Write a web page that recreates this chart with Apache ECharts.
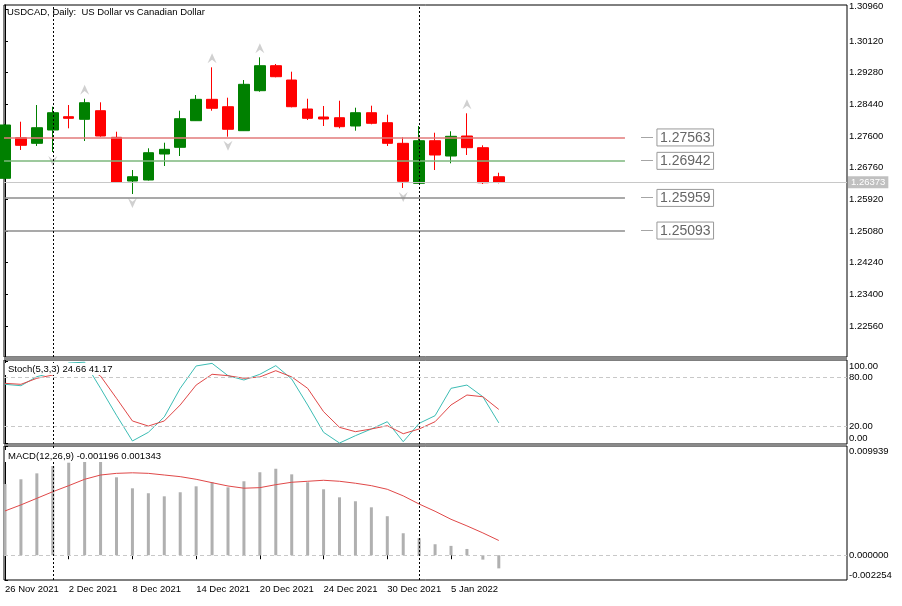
<!DOCTYPE html>
<html>
<head>
<meta charset="utf-8">
<script src="https://cdn.jsdelivr.net/npm/echarts@6/dist/echarts.min.js"></script>
<style>
  html, body { margin: 0; padding: 0; background: #fff; }
  #chart { width: 902px; height: 606px; }
</style>
</head>
<body>
<div id="chart"></div>
<script>
/**日期 */
let dates = ['26 Nov 2021', '29 Nov 2021', '30 Nov 2021', '1 Dec 2021', '2 Dec 2021', '3 Dec 2021', '6 Dec 2021', '7 Dec 2021',
  '8 Dec 2021', '9 Dec 2021', '10 Dec 2021', '13 Dec 2021', '14 Dec 2021', '15 Dec 2021', '16 Dec 2021', '17 Dec 2021',
  '20 Dec 2021', '21 Dec 2021', '22 Dec 2021', '23 Dec 2021', '24 Dec 2021', '27 Dec 2021', '28 Dec 2021', '29 Dec 2021',
  '30 Dec 2021', '31 Dec 2021', '3 Jan 2022', '4 Jan 2022', '5 Jan 2022', '6 Jan 2022', '7 Jan 2022', '10 Jan 2022'];
/**K线 [开, 收, 低, 高] */
let ohlc = [
  [1.26479, 1.27893, 1.26450, 1.27920], [1.27556, 1.27354, 1.27230, 1.27980], [1.27407, 1.27821, 1.27336, 1.28423],
  [1.27760, 1.28219, 1.27177, 1.28378], [1.28113, 1.28070, 1.27805, 1.28423], [1.28044, 1.28484, 1.27468, 1.28590],
  [1.28272, 1.27601, 1.27583, 1.28495], [1.27566, 1.26373, 1.26362, 1.27715], [1.26407, 1.26521, 1.26062, 1.26699],
  [1.26434, 1.27158, 1.26420, 1.27275], [1.27123, 1.27248, 1.26805, 1.27423], [1.27301, 1.28060, 1.27070, 1.28272],
  [1.28007, 1.28574, 1.28000, 1.28688], [1.28574, 1.28336, 1.28272, 1.29423], [1.28378, 1.27779, 1.27582, 1.28617],
  [1.27742, 1.28972, 1.27734, 1.29086], [1.28803, 1.29466, 1.28776, 1.29688], [1.29466, 1.29174, 1.29158, 1.29511],
  [1.29086, 1.28378, 1.28362, 1.29307], [1.28317, 1.28070, 1.28025, 1.28590], [1.28105, 1.28052, 1.27866, 1.28397],
  [1.28086, 1.27848, 1.27805, 1.28537], [1.27866, 1.28219, 1.27742, 1.28352], [1.28219, 1.27938, 1.27911, 1.28405],
  [1.27954, 1.27407, 1.27336, 1.28166], [1.27407, 1.26399, 1.26222, 1.27566], [1.26346, 1.27476, 1.26340, 1.27866],
  [1.27476, 1.27097, 1.26699, 1.27688], [1.27070, 1.27593, 1.26877, 1.27726], [1.27601, 1.27291, 1.27097, 1.28203],
  [1.27291, 1.26362, 1.26328, 1.27354], [1.26521, 1.26373, 1.26346, 1.26627]
];
let lastPrice = 1.26373;
/**分形 */
let fractalUp = [5, 13, 16, 29];
let fractalDown = [3, 8, 14, 25];
/**水平线 */
let levels = [1.27563, 1.26942, 1.25959, 1.25093];
let levelColors = ['#e27a7a', '#7db77d', '#8c8c8c', '#8c8c8c'];
/**月分隔 */
let separators = [3, 26];
/**随机指标 */
let stochMain = [71.9, 70.2, 81.3, 86, 98, 99, 67, 34, 2.5, 13.1, 32, 67, 94.4, 97.6, 82.5, 77.2,
  84.2, 94.8, 78.4, 46.6, 13.1, 0, 9, 17.2, 26.1, 1.6, 24.1, 33.5, 67, 71, 56.7, 24.66];
let stochSignal = [73.1, 71.9, 79.3, 83.3, 89, 94, 82, 54.8, 27, 20.8, 27, 46.6, 71, 84.2, 82.5, 79.3,
  80.9, 88.6, 81, 67, 38.4, 19.2, 13.9, 17.2, 21.2, 11.4, 17.2, 26.1, 46.6, 58.8, 56.7, 41.17];
/**MACD */
let macdHist = [0.00648, 0.00691, 0.00745, 0.00812, 0.00842, 0.00860, 0.00851, 0.00709, 0.00609, 0.00564, 0.00536,
  0.00573, 0.00627, 0.00664, 0.00618, 0.00673, 0.00755, 0.00787, 0.00736, 0.00664, 0.00600, 0.00527, 0.00491,
  0.00436, 0.00355, 0.00200, 0.00155, 0.00100, 0.00085, 0.00057, -0.00040, -0.001196];
let macdSignal = [0.00403, 0.00458, 0.00518, 0.00578, 0.00633, 0.00691, 0.00730, 0.00745, 0.00750, 0.00745, 0.00730,
  0.00715, 0.00691, 0.00660, 0.00630, 0.00610, 0.00615, 0.00642, 0.00664, 0.00673, 0.00682, 0.00673, 0.00655,
  0.00633, 0.00600, 0.00540, 0.00466, 0.00400, 0.00327, 0.00267, 0.00203, 0.001343];
/**刻度 */
let priceTicks = [1.22560, 1.23400, 1.24240, 1.25080, 1.25920, 1.26760, 1.27600, 1.28440, 1.29280, 1.30120, 1.30960];
let stochTicks = [0, 20, 80, 100];
let macdTicks = [-0.002254, 0, 0.009939];
let dateTicks = [0, 4, 8, 12, 16, 20, 24, 28];

let font = 'Liberation Sans';
let fs = 9.5;
let xMin = -0.0625, xMax = 52.86, levelEnd = 38.92;

let chartDom = document.getElementById('chart');
let chart = echarts.init(chartDom);

var makeX = function (grid, showLabel) {/**横轴 */
  return {
    type: 'value', gridIndex: grid, min: xMin, max: xMax,
    axisLine: { show: false },
    splitLine: { show: false },
    axisTick: showLabel ? { show: true, customValues: dateTicks, length: 4, lineStyle: { color: '#000' } } : { show: false },
    axisLabel: showLabel ? {
      show: true, customValues: dateTicks, align: 'left', margin: 4,
      fontFamily: font, fontSize: fs, color: '#000',
      formatter: v => dates[v] || ''
    } : { show: false }
  };
};
/**边缘标签上下挪一点, 跟MT4一样 */
var edgeRich = {
  dn: { padding: [9, 0, 0, 0] },
  dn2: { padding: [11, 0, 0, 0] },
  up: { padding: [0, 0, 5, 0] },
  up2: { padding: [0, 0, 10, 0] }
};
var makeY = function (grid, min, max, ticks, digits, top, bottom) {/**右侧纵轴 */
  return {
    type: 'value', gridIndex: grid, position: 'right', min: min, max: max,
    axisLine: { show: true, lineStyle: { color: '#000' } },
    splitLine: { show: false },
    axisTick: { show: true, customValues: ticks, length: 3, lineStyle: { color: '#000' } },
    axisLabel: {
      show: true, customValues: ticks, margin: 2,
      fontFamily: font, fontSize: fs, color: '#000', rich: edgeRich,
      formatter: function (v) {
        let s = v.toFixed(digits);
        if (top && v === ticks[ticks.length - 1]) return '{' + top + '|' + s + '}';
        if (bottom && v === ticks[0]) return '{' + bottom + '|' + s + '}';
        return s;
      }
    }
  };
};

let levelLines = levels.map((v, i) => [
  {
    coord: [xMin, v], lineStyle: { color: levelColors[i], width: 1.5, type: 'solid' },
    label: {
      show: true, position: 'end', distance: 16, formatter: '{d|—}{s|}{b|' + v.toFixed(5) + '}',
      rich: {
        d: { color: '#9a9a9a', fontSize: 12, fontFamily: font },
        s: { width: 4 },
        b: { color: '#666', fontSize: 14, fontFamily: font, borderColor: '#999', borderWidth: 1, padding: [2, 3, 1, 3] }
      }
    }
  },
  { coord: [levelEnd, v] }
]);

let option = {
  animation: false,
  backgroundColor: '#fff',
  title: [
    { text: 'USDCAD, Daily:  US Dollar vs Canadian Dollar', left: 7, top: 7, padding: 0,
      textStyle: { fontFamily: font, fontSize: fs, fontWeight: 'normal', color: '#000' } },
    { text: 'Stoch(5,3,3) 24.66 41.17', left: 5, top: 363, padding: [1, 3], backgroundColor: '#fff',
      textStyle: { fontFamily: font, fontSize: fs, fontWeight: 'normal', color: '#000' } },
    { text: 'MACD(12,26,9) -0.001196 0.001343', left: 5, top: 450, padding: [1, 3], backgroundColor: '#fff',
      textStyle: { fontFamily: font, fontSize: fs, fontWeight: 'normal', color: '#000' } }
  ],
  grid: [
    { left: 4, top: 5, width: 843, height: 352, show: true, borderColor: '#000', borderWidth: 1, outerBoundsMode: 'none' },
    { left: 4, top: 360, width: 843, height: 84, show: true, borderColor: '#000', borderWidth: 1, outerBoundsMode: 'none' },
    { left: 4, top: 446, width: 843, height: 134, show: true, borderColor: '#000', borderWidth: 1, outerBoundsMode: 'none' }
  ],
  xAxis: [makeX(0, false), makeX(1, false), makeX(2, true)],
  yAxis: [
    makeY(0, 1.21739, 1.31076, priceTicks, 5, 'up', null),
    makeY(1, -1.2, 101.7, stochTicks, 2, 'dn', 'up2'),
    makeY(2, -0.002254, 0.009939, macdTicks, 6, 'dn2', 'up2')
  ],
  graphic: [
    { type: 'rect', shape: { x: 4, y: 357, width: 843, height: 3 }, style: { fill: '#8a8a8a' }, z: 100 },
    { type: 'rect', shape: { x: 4, y: 444, width: 843, height: 2 }, style: { fill: '#8a8a8a' }, z: 100 }
  ],
  series: [
    {
      name: 'USDCAD', type: 'candlestick', xAxisIndex: 0, yAxisIndex: 0,
      data: ohlc.map((d, i) => [i, d[0], d[1], d[2], d[3]]),
      encode: { x: 0, y: [1, 2, 3, 4] },
      barWidth: 11,
      itemStyle: { color: '#008000', color0: '#ff0000', borderColor: '#008000', borderColor0: '#ff0000', borderWidth: 1 },
      markLine: {
        silent: true, symbol: ['none', 'none'], animation: false,
        data: [
          ...levelLines,
          [
            {
              coord: [xMin, lastPrice], lineStyle: { color: '#c8c8c8', width: 1, type: 'solid' },
              label: { show: true, position: 'end', distance: 1, formatter: lastPrice.toFixed(5),
                backgroundColor: '#c0c0c0', color: '#fff', fontFamily: font, fontSize: fs, padding: [1, 3] }
            },
            { coord: [xMax, lastPrice] }
          ],
          ...separators.map(i => ({ xAxis: i, lineStyle: { color: '#000', type: [2, 2], width: 1 }, label: { show: false } }))
        ]
      }
    },
    {
      name: 'FractalUp', type: 'scatter', xAxisIndex: 0, yAxisIndex: 0,
      symbol: 'path://M5,0 L10,11 L5,7 L0,11 Z', symbolSize: [9, 10], symbolOffset: [0, -9],
      itemStyle: { color: '#c4c4c4' },
      data: fractalUp.map(i => [i, ohlc[i][3]])
    },
    {
      name: 'FractalDown', type: 'scatter', xAxisIndex: 0, yAxisIndex: 0,
      symbol: 'path://M0,0 L5,4 L10,0 L5,11 Z', symbolSize: [9, 10], symbolOffset: [0, 9],
      itemStyle: { color: '#c4c4c4' },
      data: fractalDown.map(i => [i, ohlc[i][2]])
    },
    {
      name: 'Main', type: 'line', xAxisIndex: 1, yAxisIndex: 1, symbol: 'none',
      lineStyle: { color: '#3cbcb4', width: 1 },
      data: stochMain.map((v, i) => [i, v]),
      markLine: {
        silent: true, symbol: ['none', 'none'], label: { show: false },
        data: [
          { yAxis: 80, lineStyle: { color: '#c8c8c8', type: [4, 3], width: 1 } },
          { yAxis: 20, lineStyle: { color: '#c8c8c8', type: [4, 3], width: 1 } },
          ...separators.map(i => ({ xAxis: i, lineStyle: { color: '#000', type: [2, 2], width: 1 } }))
        ]
      }
    },
    {
      name: 'Signal', type: 'line', xAxisIndex: 1, yAxisIndex: 1, symbol: 'none',
      lineStyle: { color: '#e04848', width: 1 },
      data: stochSignal.map((v, i) => [i, v])
    },
    {
      name: 'MACD', type: 'bar', xAxisIndex: 2, yAxisIndex: 2, barWidth: 3,
      itemStyle: { color: '#b0b0b0' },
      data: macdHist.map((v, i) => [i, v]),
      markLine: {
        silent: true, symbol: ['none', 'none'], label: { show: false },
        data: [
          { yAxis: 0, lineStyle: { color: '#c8c8c8', type: [4, 3], width: 1 } },
          ...separators.map(i => ({ xAxis: i, lineStyle: { color: '#000', type: [2, 2], width: 1 } }))
        ]
      }
    },
    {
      name: 'Signal', type: 'line', xAxisIndex: 2, yAxisIndex: 2, symbol: 'none',
      lineStyle: { color: '#e04848', width: 1 },
      data: macdSignal.map((v, i) => [i, v])
    }
  ]
};
chart.setOption(option);
</script>
</body>
</html>
